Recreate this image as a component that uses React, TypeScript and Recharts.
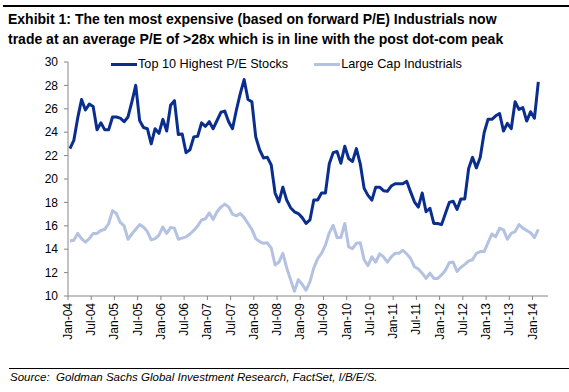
import React from 'react';
import { LineChart, Line, XAxis, YAxis, Legend } from 'recharts';

// Tick labels for the category (month) axis, every 6 months from Jan-04
const monthLabels = [
  'Jan-04', 'Jul-04', 'Jan-05', 'Jul-05', 'Jan-06', 'Jul-06', 'Jan-07', 'Jul-07',
  'Jan-08', 'Jul-08', 'Jan-09', 'Jul-09', 'Jan-10', 'Jul-10', 'Jan-11', 'Jul-11',
  'Jan-12', 'Jul-12', 'Jan-13', 'Jul-13', 'Jan-14',
];

// Monthly forward P/E, Jan-04 .. Feb-14
const top10PE = [
  22.6, 23.3, 25.2, 26.8, 25.9, 26.4, 26.2, 24.2, 24.8, 24.2, 24.2, 25.3,
  25.3, 25.2, 24.9, 25.3, 26.6, 28.0, 25.0, 24.4, 24.3, 23.0, 24.3, 23.9,
  25.1, 24.1, 26.3, 26.7, 23.8, 23.85, 22.25, 22.5, 23.6, 23.65, 24.8, 24.5,
  24.9, 24.3, 25.0, 25.7, 25.8, 24.9, 24.3, 25.9, 27.3, 28.5, 26.8, 26.6,
  23.6, 22.5, 21.8, 21.85, 21.2, 18.8, 18.05, 19.3, 18.2, 17.55, 17.2, 17.05,
  16.7, 16.2, 16.5, 18.2, 18.2, 18.8, 18.8, 21.3, 22.25, 22.35, 21.35, 22.8,
  21.75, 21.5, 22.6, 21.3, 19.2, 18.6, 18.2, 19.3, 19.3, 19.0, 18.95, 19.4,
  19.6, 19.6, 19.6, 19.8, 18.9, 18.05, 17.6, 18.8, 17.2, 17.5, 16.2, 16.2,
  16.1, 17.05, 18.0, 18.1, 17.4, 18.3, 18.3, 20.9, 21.85, 20.95, 21.85, 23.95,
  25.1, 25.1, 25.4, 25.6, 24.1, 24.75, 24.3, 26.6, 25.95, 26.1, 24.95, 25.75,
  25.2, 28.3,
];

const largeCapPE = [
  14.7, 14.77, 15.35, 14.9, 14.6, 14.9, 15.35, 15.35, 15.6, 15.7, 16.2, 17.3,
  17.05, 16.3, 16.0, 14.85, 15.3, 15.7, 16.1, 15.9, 15.5, 14.8, 14.9, 15.2,
  15.9, 15.35, 15.85, 15.8, 14.85, 14.95, 15.05, 15.3, 15.6, 15.98, 16.5, 16.6,
  17.1, 16.55, 17.2, 17.6, 17.85, 17.6, 17.0, 16.85, 17.05, 16.7, 16.2, 15.7,
  14.9, 14.65, 14.5, 14.55, 14.1, 12.65, 12.9, 13.65, 12.4, 11.4, 10.4, 11.4,
  11.0, 10.5, 11.2, 12.4, 13.2, 13.65, 14.35, 15.4, 16.05, 15.0, 15.0, 16.2,
  14.2, 14.05, 14.5, 14.55, 13.1, 12.6, 13.35, 12.9, 13.6, 13.35, 12.9, 13.35,
  13.65, 13.65, 13.9, 13.6, 13.2, 12.5, 12.3, 11.95, 11.5, 11.95, 11.5, 11.5,
  11.8, 12.2, 12.85, 12.9, 12.1, 12.45, 12.7, 13.0, 13.1, 13.65, 13.8, 13.8,
  14.55, 15.3, 15.07, 15.8, 15.65, 14.85, 15.35, 15.5, 16.1, 15.8, 15.6, 15.4,
  15.0, 15.7,
];

const yTicks = [10, 12, 14, 16, 18, 20, 22, 24, 26, 28, 30];

const seriesNames = ['Top 10 Highest P/E Stocks', 'Large Cap Industrials'];
const seriesColors = ['#0A2E8E', '#B3C2E1'];

const data = top10PE.map((v, i) => ({ m: i + 0.5, top10: v, large: largeCapPE[i] }));
const xTicks = monthLabels.map((_, i) => i * 6);

const FONT = '"Liberation Sans", Arial, Helvetica, sans-serif';

const XTick = (props: any) => {
  const { x, y, payload } = props;
  const label = monthLabels[Math.round(payload.value / 6)];
  const yy = y + 1;
  return (
    <text
      x={x}
      y={yy}
      transform={`rotate(-90, ${x}, ${yy})`}
      textAnchor="end"
      dominantBaseline="central"
      fontSize={12}
      fontFamily={FONT}
      fill="#000"
    >
      {label}
    </text>
  );
};

const LegendContent = () => (
  <div style={{ display: 'flex', alignItems: 'center', height: 16, fontFamily: FONT, fontSize: 12.7, color: '#000', whiteSpace: 'nowrap' }}>
    {seriesNames.map((n, i) => (
      <div key={n} style={{ display: 'flex', alignItems: 'center', marginLeft: i === 0 ? 0 : 26 }}>
        <div style={{ width: 26, height: 3, background: seriesColors[i], marginRight: 1 }} />
        <span>{n}</span>
      </div>
    ))}
  </div>
);

export default function App() {
  return (
    <div style={{ position: 'absolute', left: 0, top: 0, width: 569, height: 392, background: '#fff', fontFamily: FONT, overflow: 'hidden' }}>
      <div style={{ position: 'absolute', left: 3, top: 5, width: 566, height: 2, background: '#000' }} />
      <div style={{ position: 'absolute', left: 8, top: 9, fontWeight: 'bold', fontSize: 14, lineHeight: '20px', color: '#000', whiteSpace: 'nowrap' }}>
        <div>Exhibit 1: The ten most expensive (based on forward P/E) Industrials now</div>
        <div>trade at an average P/E of &gt;28x which is in line with the post dot-com peak</div>
      </div>
      <div style={{ position: 'absolute', left: 0, top: 0 }}>
        <LineChart width={569} height={392} data={data} margin={{ top: 62, right: 21, bottom: 36, left: 8 }}>
          <XAxis
            type="number"
            dataKey="m"
            domain={[0, 124]}
            ticks={xTicks}
            interval={0}
            tick={<XTick />}
            tickSize={4}
            height={60}
            axisLine={{ stroke: '#868686' }}
            tickLine={{ stroke: '#868686' }}
          />
          <YAxis
            type="number"
            domain={[10, 30]}
            ticks={yTicks}
            interval={0}
            width={60}
            tickSize={4}
            tickMargin={6}
            tick={{ fontSize: 12, fill: '#000', fontFamily: FONT }}
            axisLine={{ stroke: '#868686' }}
            tickLine={{ stroke: '#868686' }}
          />
          <Legend
            layout="horizontal"
            verticalAlign="middle"
            align="center"
            content={<LegendContent />}
            wrapperStyle={{ top: 56, left: 111, width: 'auto' }}
          />
          <Line type="linear" dataKey="large" name={seriesNames[1]} stroke={seriesColors[1]} strokeWidth={3} dot={false} isAnimationActive={false} strokeLinejoin="round" />
          <Line type="linear" dataKey="top10" name={seriesNames[0]} stroke={seriesColors[0]} strokeWidth={3} dot={false} isAnimationActive={false} strokeLinejoin="round" />
        </LineChart>
      </div>
      <div style={{ position: 'absolute', left: 9, top: 368, width: 560, height: 1, background: '#000' }} />
      <div style={{ position: 'absolute', left: 10, top: 370, fontStyle: 'italic', fontSize: 11.5, lineHeight: '14px', color: '#000', whiteSpace: 'pre' }}>
        {'Source:  Goldman Sachs Global Investment Research, FactSet, I/B/E/S.'}
      </div>
    </div>
  );
}
